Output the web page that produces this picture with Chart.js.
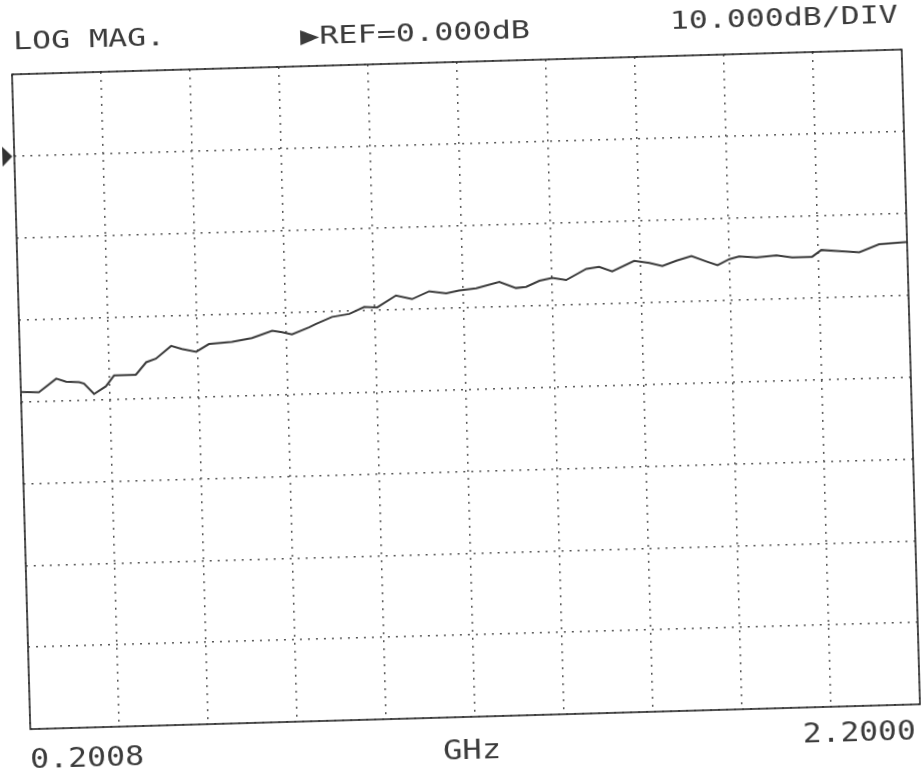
<!DOCTYPE html>
<html>
<head>
<meta charset="utf-8">
<script src="https://cdn.jsdelivr.net/npm/chart.js@4/dist/chart.umd.min.js"></script>
<style>
    html, body { margin: 0; padding: 0; background: #fff; overflow: hidden; }
    #wrap { width: 921px; height: 778px; transform: rotate(-1.6deg); transform-origin: 50% 50%; }
</style>
</head>
<body>
<div id="wrap"><canvas id="myChart" width="921" height="778"></canvas></div>
<script>
// частота, ГГц
const freqs = [0.2008, 0.241, 0.281, 0.303, 0.332, 0.343, 0.365, 0.392, 0.411, 0.460,
    0.484, 0.506, 0.541, 0.565, 0.597, 0.626, 0.678, 0.723, 0.769, 0.791,
    0.813, 0.852, 0.868, 0.904, 0.943, 0.977, 1.006, 1.049, 1.085, 1.124,
    1.162, 1.191, 1.230, 1.282, 1.319, 1.342, 1.372, 1.401, 1.432, 1.478,
    1.507, 1.536, 1.586, 1.620, 1.649, 1.681, 1.715, 1.748, 1.773, 1.800,
    1.822, 1.861, 1.906, 1.941, 1.986, 2.007, 2.047, 2.092, 2.137, 2.200];
// модуль, дБ
const mags = [-28.8, -28.9, -27.3, -27.7, -27.8, -28.0, -29.3, -28.4, -27.1, -27.1,
    -25.6, -25.2, -23.7, -24.1, -24.5, -23.6, -23.4, -23.0, -22.2, -22.4,
    -22.7, -21.9, -21.5, -20.7, -20.4, -19.6, -19.7, -18.3, -18.8, -17.9,
    -18.2, -17.9, -17.7, -17.0, -17.8, -17.7, -17.0, -16.7, -17.0, -15.7,
    -15.5, -16.1, -14.9, -15.2, -15.6, -15.0, -14.5, -15.2, -15.7, -15.0,
    -14.7, -14.9, -14.7, -15.0, -15.0, -14.2, -14.4, -14.6, -13.7, -13.5];

const startFreq = 0.2008;
const stopFreq = 2.2;
const xDivs = 10;
const refLevel = 0;
const dbPerDiv = 10;
const yTop = 10;
const yBottom = -70;

const topLabels = ['LOG MAG.', '\u25B6REF=0.000dB', '10.000dB/DIV'];
const bottomLabels = ['0.2008', 'GHz', '2.2000'];

const ink = '#3b3b3b';

// текст растягивается по ширине, как у плоттера
function stretchText(ctx, text, x, y, width, size) {
    ctx.save();
    ctx.font = size + 'px "DejaVu Sans Mono"';
    ctx.textBaseline = 'middle';
    ctx.textAlign = 'left';
    const w = ctx.measureText(text).width;
    ctx.translate(x, y);
    ctx.scale(width / w, 1);
    ctx.fillStyle = ink;
    ctx.fillText(text, 0, 0);
    ctx.restore();
}

const framePlugin = {
    id: 'frame',
    afterDraw(chart) {
        const ctx = chart.ctx;
        const a = chart.chartArea;
        ctx.save();
        ctx.strokeStyle = '#2a2a2a';
        ctx.lineWidth = 1.6;
        ctx.strokeRect(a.left, a.top, a.right - a.left, a.bottom - a.top);

        // маркер опорного уровня
        const yRef = chart.scales.y.getPixelForValue(refLevel);
        ctx.fillStyle = '#333';
        ctx.beginPath();
        ctx.moveTo(a.left - 12, yRef - 10);
        ctx.lineTo(a.left - 2, yRef);
        ctx.lineTo(a.left - 12, yRef + 10);
        ctx.closePath();
        ctx.fill();
        ctx.restore();

        stretchText(ctx, topLabels[0], 23, 30, 152, 25);
        stretchText(ctx, topLabels[1], 310, 33, 230, 25);
        stretchText(ctx, topLabels[2], 680, 28, 228, 25);
        stretchText(ctx, bottomLabels[0], 20, 749, 114, 27);
        stretchText(ctx, bottomLabels[1], 433, 752, 58, 27);
        stretchText(ctx, bottomLabels[2], 793, 745, 113, 27);
    }
};

const ctx = document.getElementById('myChart').getContext('2d');
const myChart = new Chart(ctx, {
    type: 'line',
    data: {
        datasets: [{
            data: freqs.map((f, i) => ({x: f, y: mags[i]})),
            borderColor: ink,
            borderWidth: 2,
            pointRadius: 0,
            tension: 0,
            fill: false
        }]
    },
    options: {
        responsive: false,
        animation: false,
        devicePixelRatio: 1,
        layout: {padding: {left: 21, right: 10, top: 62, bottom: 61}},
        plugins: {legend: {display: false}, tooltip: {enabled: false}},
        scales: {
            x: {
                type: 'linear',
                min: startFreq,
                max: stopFreq,
                afterBuildTicks: (scale) => {
                    const step = (stopFreq - startFreq) / xDivs;
                    scale.ticks = [];
                    for (let i = 0; i <= xDivs; i++) scale.ticks.push({value: startFreq + i * step});
                },
                ticks: {display: false},
                grid: {color: '#555', lineWidth: 1.5, drawTicks: false},
                border: {display: false, dash: [2, 6]}
            },
            y: {
                min: yBottom,
                max: yTop,
                ticks: {display: false, stepSize: dbPerDiv},
                grid: {color: '#555', lineWidth: 1.5, drawTicks: false},
                border: {display: false, dash: [2, 6]}
            }
        }
    },
    plugins: [framePlugin]
});
</script>
</body>
</html>
